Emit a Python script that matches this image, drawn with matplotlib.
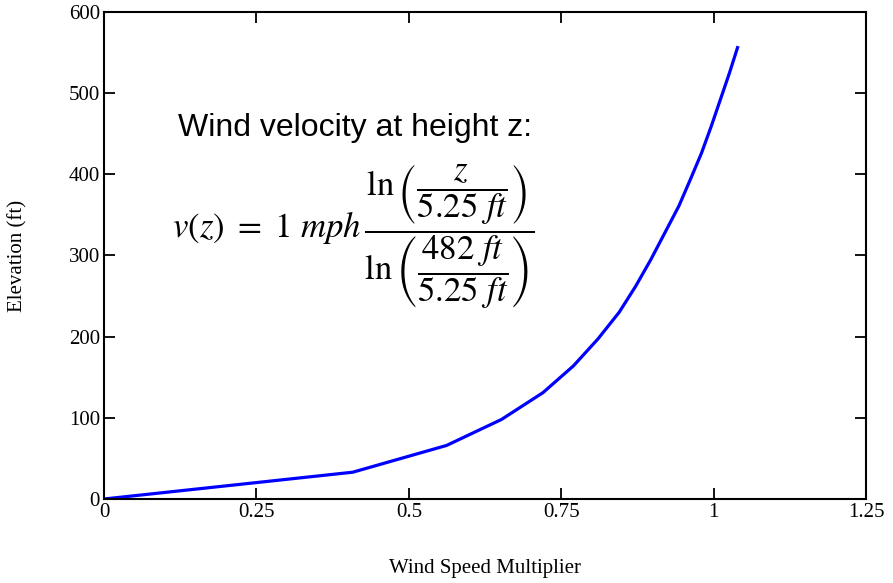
import numpy as np
import matplotlib
matplotlib.use("Agg")
import matplotlib.pyplot as plt

# wind speed multiplier vs elevation
multiplier = [0, 0.408, 0.562, 0.652, 0.720, 0.770, 0.810, 0.845, 0.872,
              0.897, 0.920, 0.943, 0.962, 0.980, 0.996, 1.011, 1.026, 1.040]
elevation = [0, 33, 66, 98, 131, 164, 197, 230, 262,
             295, 328, 361, 394, 426, 459, 492, 525, 558]

xticks = [0, 0.25, 0.5, 0.75, 1, 1.25]
xtick_labels = ["0", "0.25", "0.5", "0.75", "1", "1.25"]
yticks = [0, 100, 200, 300, 400, 500, 600]

plt.rcParams["mathtext.fontset"] = "stix"

fig = plt.figure(figsize=(8.93, 5.83), dpi=100)
ax = fig.add_axes([0.1165, 0.1441, 0.8533, 0.8353])

ax.plot(multiplier, elevation, color="#0000ff", lw=2.3, solid_capstyle="butt")

ax.set_xlim(0, 1.25)
ax.set_ylim(0, 600)
ax.set_xticks(xticks)
ax.set_xticklabels(xtick_labels)
ax.set_yticks(yticks)

for s in ax.spines.values():
    s.set_linewidth(1.5)
ax.tick_params(direction="in", length=8, width=1.3, top=True, right=True,
               labelsize=15, pad=3)
for lab in ax.get_xticklabels() + ax.get_yticklabels():
    lab.set_fontfamily("Liberation Serif")

ax.set_xlabel("Wind Speed Multiplier", fontfamily="Liberation Serif",
              fontsize=15, va="center")
ax.xaxis.set_label_coords(0.5, -0.142)
ax.set_ylabel("Elevation (ft)", fontfamily="Liberation Serif", fontsize=15,
              va="center")
ax.yaxis.set_label_coords(-0.113, 0.5)

ax.text(0.121, 457, "Wind velocity at height z:", fontfamily="Liberation Sans",
        fontsize=23, va="center", ha="left")
formula = (r"$v(z)\ =\ 1\ mph\,\dfrac{\ln\left(\dfrac{z}{5.25\ ft}\right)}"
           r"{\ln\left(\dfrac{482\ ft}{5.25\ ft}\right)}$")
ax.text(0.112, 323, formula, fontsize=25, va="center", ha="left")

fig.savefig("out.png", dpi=100)
